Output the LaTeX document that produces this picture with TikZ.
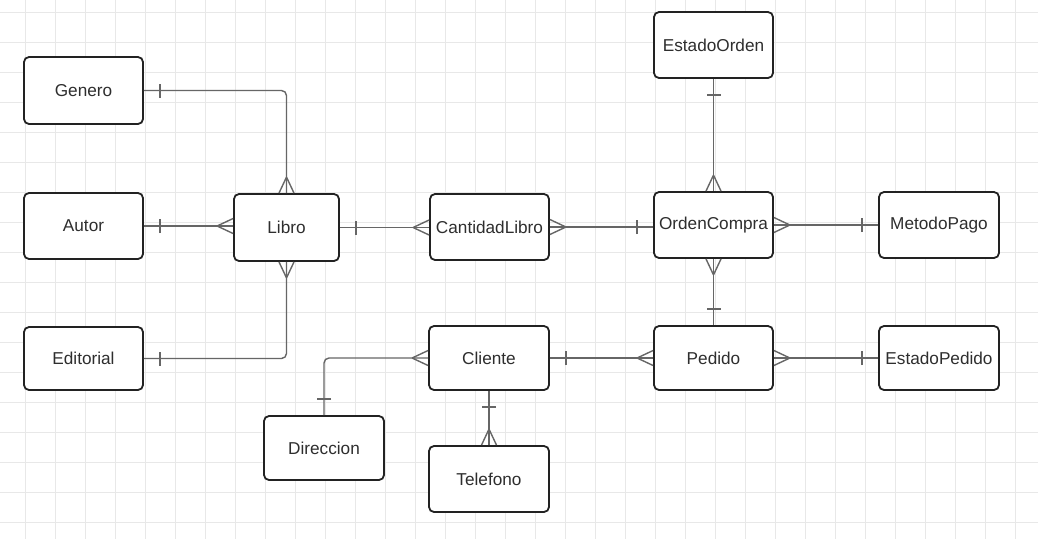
\documentclass[tikz,border=0pt]{standalone}
\usepackage{fontspec}
\setmainfont{Liberation Sans}
\usetikzlibrary{calc}
\definecolor{gridc}{HTML}{E8E8E8}
\definecolor{connc}{HTML}{666666}
\definecolor{boxc}{HTML}{222222}
\definecolor{textc}{HTML}{2E2E2E}
\tikzset{
  entity/.style={draw=boxc, line width=1.8pt, rounded corners=5pt, fill=white,
    inner sep=0pt, text=textc, font=\fontsize{17.2}{19}\selectfont},
  conn/.style={draw=connc, line width=1.4pt},
}
\newcommand\manyfoot[3]{\draw[conn] ($(#1)+(#2)$) -- ($(#1)+(#3)$) ($(#1)+(#2)$) -- ($(#1)-(#3)$);}
\newcommand\onebar[3]{\draw[conn] ($(#1)+(#2)+(#3)$) -- ($(#1)+(#2)-(#3)$);}
\begin{document}
\begin{tikzpicture}[x=1pt,y=-1pt]
\useasboundingbox (0,0) rectangle (1038,539);
\fill[white] (0,0) rectangle (1038,539);
\foreach \i in {0,...,33} \draw[gridc, line width=0.9pt] (25+30*\i,0) -- (25+30*\i,539);
\foreach \j in {0,...,17} \draw[gridc, line width=0.9pt] (0,12+30*\j) -- (1038,12+30*\j);

\node[entity, minimum width=119pt, minimum height=67pt] (genero) at (83.5,90.5) {Genero};
\node[entity, minimum width=119pt, minimum height=66pt] (autor) at (83.5,226) {Autor};
\node[entity, minimum width=119pt, minimum height=63pt] (editorial) at (83.5,358.5) {Editorial};
\node[entity, minimum width=105pt, minimum height=67pt] (libro) at (286.5,227.5) {Libro};
\node[entity, minimum width=119pt, minimum height=66pt] (cant) at (489.5,227) {CantidadLibro};
\node[entity, minimum width=119pt, minimum height=66pt] (oc) at (713.5,225) {OrdenCompra};
\node[entity, minimum width=120pt, minimum height=66pt] (metodo) at (939,225) {MetodoPago};
\node[entity, minimum width=119pt, minimum height=66pt] (estado) at (713.5,45) {EstadoOrden};
\node[entity, minimum width=120pt, minimum height=64pt] (cliente) at (489,358) {Cliente};
\node[entity, minimum width=119pt, minimum height=64pt] (pedido) at (713.5,358) {Pedido};
\node[entity, minimum width=120pt, minimum height=64pt] (estped) at (939,358) {EstadoPedido};
\node[entity, minimum width=120pt, minimum height=64pt] (direccion) at (324,448) {Direccion};
\node[entity, minimum width=120pt, minimum height=66pt] (telefono) at (489,479) {Telefono};

% Genero - Libro
\draw[conn, rounded corners=5pt] (genero.east) -| (libro.north);
\onebar{genero.east}{16,0}{0,7}
\manyfoot{libro.north}{0,-16}{7.5,0}
% Autor - Libro
\draw[conn] (autor.east) -- (autor.east -| libro.west);
\onebar{autor.east}{16,0}{0,7}
\manyfoot{autor.east -| libro.west}{-16,0}{0,7.5}
% Editorial - Libro
\draw[conn, rounded corners=5pt] (editorial.east) -| (libro.south);
\onebar{editorial.east}{16,0}{0,7}
\manyfoot{libro.south}{0,16}{7.5,0}
% Libro - CantidadLibro
\draw[conn] (libro.east) -- (libro.east -| cant.west);
\onebar{libro.east}{16,0}{0,7}
\manyfoot{libro.east -| cant.west}{-16,0}{0,7.5}
% CantidadLibro - OrdenCompra
\draw[conn] (cant.east) -- (cant.east -| oc.west);
\manyfoot{cant.east}{16,0}{0,7.5}
\onebar{cant.east -| oc.west}{-16,0}{0,7}
% OrdenCompra - MetodoPago
\draw[conn] (oc.east) -- (metodo.west);
\manyfoot{oc.east}{16,0}{0,7.5}
\onebar{metodo.west}{-16,0}{0,7}
% EstadoOrden - OrdenCompra
\draw[conn] (estado.south) -- (oc.north);
\onebar{estado.south}{0,16}{7,0}
\manyfoot{oc.north}{0,-16}{7.5,0}
% OrdenCompra - Pedido
\draw[conn] (oc.south) -- (pedido.north);
\manyfoot{oc.south}{0,16}{7.5,0}
\onebar{pedido.north}{0,-16}{7,0}
% Cliente - Pedido
\draw[conn] (cliente.east) -- (pedido.west);
\onebar{cliente.east}{16,0}{0,7}
\manyfoot{pedido.west}{-16,0}{0,7.5}
% Pedido - EstadoPedido
\draw[conn] (pedido.east) -- (estped.west);
\manyfoot{pedido.east}{16,0}{0,7.5}
\onebar{estped.west}{-16,0}{0,7}
% Cliente - Direccion
\draw[conn, rounded corners=5pt] (cliente.west) -| (direccion.north);
\manyfoot{cliente.west}{-16,0}{0,7.5}
\onebar{direccion.north}{0,-16}{7,0}
% Cliente - Telefono
\draw[conn] (cliente.south) -- (telefono.north);
\onebar{cliente.south}{0,16}{7,0}
\manyfoot{telefono.north}{0,-16}{7.5,0}
\end{tikzpicture}
\end{document}
